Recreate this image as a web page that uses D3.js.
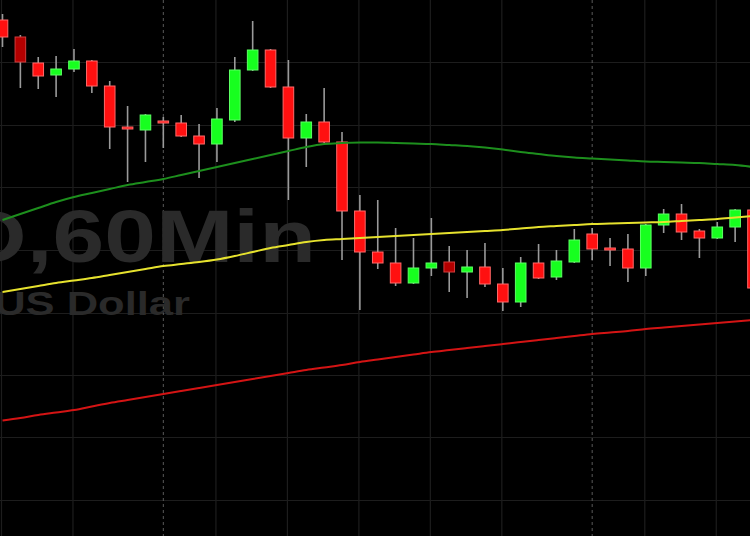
<!DOCTYPE html>
<html><head><meta charset="utf-8">
<script src="https://cdn.jsdelivr.net/npm/d3@7"></script>
<style>html,body{margin:0;padding:0;background:#000;overflow:hidden}svg{display:block}</style>
</head><body><svg id="c" width="750" height="536"></svg>
<script>
// hourly candles (60Min)
const times = ["15:00","16:00","17:00","18:00","19:00","20:00","21:00","22:00","23:00",
  "00:00","01:00","02:00","03:00","04:00","05:00","06:00","07:00","08:00","09:00","10:00","11:00","12:00",
  "13:00","14:00","15:00","16:00","17:00","18:00","19:00","20:00","21:00","22:00","23:00",
  "00:00","01:00","02:00","03:00","04:00","05:00","06:00","07:00","08:00","09:00"];
const open  = [1.12460,1.12426,1.12374,1.12350,1.12362,1.12378,1.12328,1.12246,1.12240,1.12258,1.12254,1.12228,1.12212,1.12260,1.12360,1.12400,1.12326,1.12224,1.12256,1.12216,1.12078,1.11996,1.11974,1.11934,1.11964,1.11976,1.11956,1.11966,1.11932,1.11896,1.11974,1.11946,1.11976,1.12032,1.12004,1.12002,1.11964,1.12050,1.12072,1.12038,1.12024,1.12046,1.12080];
const high  = [1.12472,1.12430,1.12386,1.12388,1.12402,1.12380,1.12338,1.12288,1.12272,1.12266,1.12270,1.12252,1.12284,1.12386,1.12458,1.12402,1.12380,1.12272,1.12324,1.12236,1.12110,1.12100,1.12044,1.12024,1.12064,1.12008,1.12000,1.12014,1.11964,1.11986,1.12012,1.12000,1.12042,1.12044,1.12024,1.12032,1.12052,1.12082,1.12092,1.12042,1.12056,1.12082,1.12082];
const low   = [1.12406,1.12324,1.12322,1.12306,1.12356,1.12314,1.12202,1.12136,1.12176,1.12204,1.12226,1.12144,1.12176,1.12256,1.12358,1.12324,1.12100,1.12166,1.12214,1.11980,1.11880,1.11962,1.11928,1.11932,1.11948,1.11916,1.11904,1.11926,1.11878,1.11886,1.11942,1.11940,1.11974,1.11980,1.11968,1.11936,1.11948,1.12034,1.12020,1.11984,1.12022,1.12016,1.11920];
const close = [1.12426,1.12376,1.12348,1.12362,1.12378,1.12328,1.12246,1.12242,1.12270,1.12254,1.12228,1.12212,1.12262,1.12360,1.12400,1.12326,1.12224,1.12256,1.12216,1.12078,1.11996,1.11974,1.11934,1.11964,1.11974,1.11956,1.11966,1.11932,1.11896,1.11974,1.11944,1.11978,1.12020,1.12002,1.12000,1.11964,1.12050,1.12072,1.12036,1.12024,1.12046,1.12080,1.11924];
const darkCandles = [1, 25];

// moving averages
const maGreen  = [1.12060,1.12072,1.12084,1.12096,1.12106,1.12114,1.12122,1.12130,1.12136,1.12142,1.12150,1.12158,1.12166,1.12174,1.12182,1.12190,1.12198,1.12206,1.12212,1.12214,1.12215,1.12215,1.12214,1.12213,1.12212,1.12210,1.12208,1.12205,1.12201,1.12196,1.12192,1.12188,1.12185,1.12183,1.12181,1.12179,1.12177,1.12176,1.12175,1.12174,1.12172,1.12170,1.12166];
const maYellow = [1.11916,1.11922,1.11928,1.11934,1.11939,1.11944,1.11950,1.11956,1.11962,1.11968,1.11972,1.11976,1.11981,1.11988,1.11996,1.12004,1.12010,1.12016,1.12020,1.12022,1.12024,1.12026,1.12028,1.12030,1.12032,1.12034,1.12036,1.12038,1.12040,1.12043,1.12046,1.12048,1.12050,1.12052,1.12053,1.12054,1.12055,1.12056,1.12058,1.12060,1.12062,1.12065,1.12068];
const maRed    = [1.11659,1.11664,1.11670,1.11675,1.11680,1.11687,1.11694,1.11700,1.11706,1.11712,1.11718,1.11724,1.11730,1.11736,1.11742,1.11748,1.11754,1.11760,1.11765,1.11770,1.11776,1.11781,1.11786,1.11791,1.11796,1.11800,1.11804,1.11808,1.11812,1.11816,1.11820,1.11824,1.11828,1.11832,1.11835,1.11838,1.11842,1.11845,1.11848,1.11851,1.11854,1.11857,1.11860];

const priceTicks = [1.12375,1.12250,1.12125,1.12000,1.11875,1.11750,1.11625,1.11500];
const hourGridIdx = [0,4,12,16,20,24,28,36,40];
const daySepIdx = [9,33];
const watermarkTitle = "D,60Min";
const watermarkSub = "US Dollar";

const W = 750, H = 536;
const svg = d3.select("#c");
const x = d3.scaleLinear().domain([0, times.length - 1]).range([2.5, 753]);
const y = d3.scaleLinear().domain([1.125, 1.125 - 0.00002 * H]).range([0, H]);
const bw = 10.6;

svg.append("rect").attr("width", W).attr("height", H).attr("fill", "#000");

const grid = svg.append("g");
grid.selectAll("line.h").data(priceTicks).join("line")
  .attr("x1", 0).attr("x2", W)
  .attr("y1", d => Math.round(y(d)) + 0.5).attr("y2", d => Math.round(y(d)) + 0.5)
  .attr("stroke", "#1d1d1d").attr("stroke-width", 1.2);
grid.selectAll("line.v").data(hourGridIdx).join("line")
  .attr("x1", d => x(d) - 1).attr("x2", d => x(d) - 1)
  .attr("y1", 0).attr("y2", H)
  .attr("stroke", "#1d1d1d").attr("stroke-width", 1.2);
grid.selectAll("line.s").data(daySepIdx).join("line")
  .attr("x1", d => x(d)).attr("x2", d => x(d))
  .attr("y1", 0).attr("y2", H)
  .attr("stroke", "#5a5a5a").attr("stroke-width", 1).attr("stroke-dasharray", "3,3");

// watermark
svg.append("text").text(watermarkTitle)
  .attr("transform", "translate(316,262) scale(1.24,1)")
  .attr("text-anchor", "end")
  .attr("font-family", "'Liberation Sans', Arial, sans-serif").attr("font-weight", "bold")
  .attr("font-size", 75).attr("fill", "#2a2a2a");
svg.append("text").text(watermarkSub)
  .attr("transform", "translate(190,315) scale(1.28,1)")
  .attr("text-anchor", "end")
  .attr("font-family", "'Liberation Sans', Arial, sans-serif").attr("font-weight", "bold")
  .attr("font-size", 34).attr("fill", "#2a2a2a");

// candles
const idx = d3.range(times.length);
const cg = svg.append("g");
cg.selectAll("line.w").data(idx).join("line")
  .attr("x1", i => x(i)).attr("x2", i => x(i))
  .attr("y1", i => y(high[i])).attr("y2", i => y(low[i]))
  .attr("stroke", "#9a9a9a").attr("stroke-width", 1.6);
cg.selectAll("rect.b").data(idx).join("rect")
  .attr("x", i => x(i) - bw / 2)
  .attr("y", i => y(Math.max(open[i], close[i])))
  .attr("width", bw)
  .attr("height", i => Math.max(2, Math.abs(y(open[i]) - y(close[i]))))
  .attr("fill", i => close[i] >= open[i] ? "#17ff1f" : (darkCandles.includes(i) ? "#b40000" : "#ff1010"))
  .attr("stroke", i => close[i] >= open[i] ? "#5dff64" : (darkCandles.includes(i) ? "#d03c3c" : "#ff6a6a"))
  .attr("stroke-width", 1);

// moving averages
const line = d3.line().x((d, i) => x(i)).y(d => y(d)).curve(d3.curveMonotoneX);
[[maRed, "#d41414"], [maYellow, "#e6e22e"], [maGreen, "#1d8f1d"]].forEach(([arr, col]) => {
  svg.append("path").datum(arr).attr("d", line).attr("fill", "none")
    .attr("stroke", col).attr("stroke-width", 2);
});
</script></body></html>
